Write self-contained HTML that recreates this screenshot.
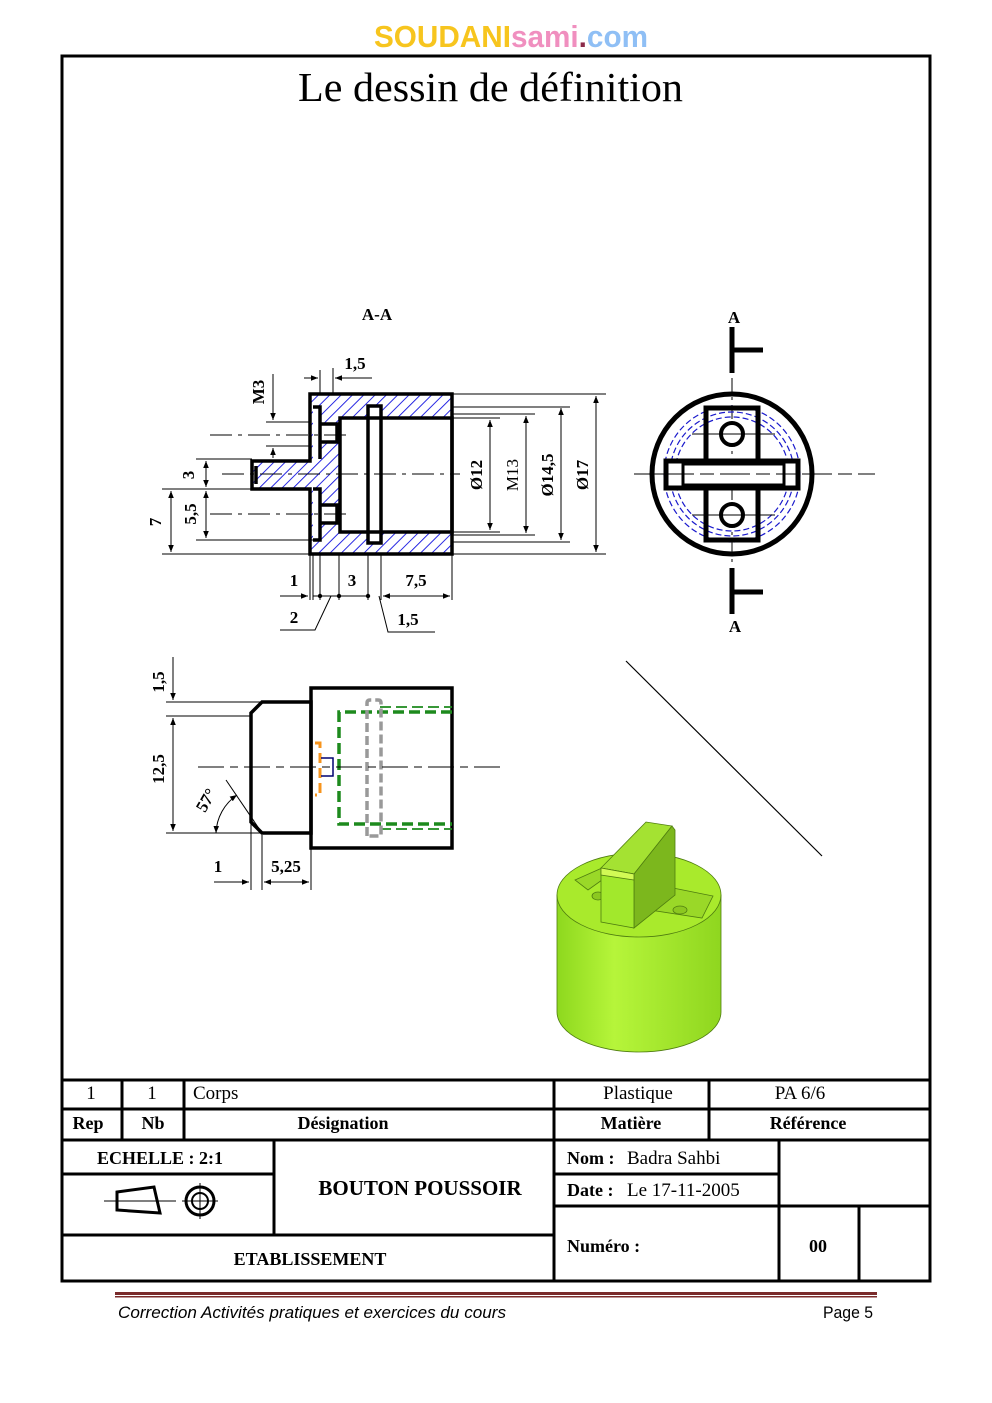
<!DOCTYPE html>
<html><head><meta charset="utf-8"><style>
html,body{margin:0;padding:0;background:#fff}
svg{display:block}
text{font-family:"Liberation Serif",serif}
</style></head><body>
<svg width="992" height="1403" viewBox="0 0 992 1403" xmlns="http://www.w3.org/2000/svg">
<defs>
<pattern id="h" width="8" height="8" patternUnits="userSpaceOnUse" patternTransform="rotate(45)">
<rect width="8" height="8" fill="#fff"/><line x1="0" y1="0" x2="0" y2="8" stroke="#1010e0" stroke-width="1.8"/>
</pattern>
<marker id="a" viewBox="0 0 10 10" refX="10" refY="5" markerWidth="7" markerHeight="7" orient="auto-start-reverse"><path d="M0,1 L10,5 L0,9z" fill="#000"/></marker>
<linearGradient id="cyl" x1="0" x2="1" y1="0" y2="0"><stop offset="0" stop-color="#8ed81e"/><stop offset="0.35" stop-color="#b6f53a"/><stop offset="1" stop-color="#8fd61f"/></linearGradient>
</defs>

<text x="374" y="47" font-weight="bold" font-size="31" textLength="274" lengthAdjust="spacingAndGlyphs" style="font-family:'Liberation Sans',sans-serif"><tspan fill="#f7c51e">SOUDANI</tspan><tspan fill="#f08fbf">sami</tspan><tspan fill="#8b2b4a">.</tspan><tspan fill="#8fbff5">com</tspan></text>

<rect x="62" y="56" width="868" height="1225" fill="none" stroke="#000" stroke-width="3"/>
<text x="298" y="101" font-size="41" textLength="385" lengthAdjust="spacingAndGlyphs">Le dessin de définition</text>

<text x="377" y="320" font-size="17" font-weight="bold" text-anchor="middle">A-A</text>
<g>
<rect x="310" y="394" width="142" height="160" fill="url(#h)"/>
<rect x="252" y="461" width="58" height="28" fill="url(#h)"/>
<g fill="#fff">
<rect x="313" y="407" width="7" height="52"/><rect x="313" y="489" width="7" height="51"/>
<rect x="321" y="424" width="16" height="18"/><rect x="321" y="505" width="16" height="18"/>
<rect x="340" y="418" width="112" height="114"/>
<rect x="368" y="406" width="13" height="137"/>
</g>
<g fill="none" stroke="#000" stroke-width="3.5">
<path d="M310,394 H452 V554 H310 V489 H252 V461 H310 Z"/>
<rect x="340" y="418" width="112" height="114"/>
<rect x="368" y="406" width="13" height="137"/>
<path d="M313,407 H320 V459 M313,489 H320 V540 H313"/>
<path d="M320,424 H337 V442 H320 M320,505 H337 V523 H320"/>
<path d="M256,466 V484"/>
</g>
<g stroke="#000" stroke-width="1" fill="none">
<line x1="452" y1="407" x2="570" y2="407"/><line x1="452" y1="414" x2="535" y2="414"/><line x1="452" y1="418" x2="500" y2="418"/>
<line x1="452" y1="532" x2="500" y2="532"/><line x1="452" y1="535" x2="535" y2="535"/><line x1="452" y1="542" x2="570" y2="542"/>
<line x1="452" y1="394" x2="606" y2="394"/><line x1="162" y1="554" x2="606" y2="554"/>
<line x1="490" y1="420" x2="490" y2="530" marker-start="url(#a)" marker-end="url(#a)"/>
<line x1="526" y1="416" x2="526" y2="533" marker-start="url(#a)" marker-end="url(#a)"/>
<line x1="561" y1="408" x2="561" y2="540" marker-start="url(#a)" marker-end="url(#a)"/>
<line x1="596" y1="396" x2="596" y2="552" marker-start="url(#a)" marker-end="url(#a)"/>
<line x1="196" y1="459" x2="252" y2="459"/><line x1="196" y1="489" x2="252" y2="489"/><line x1="162" y1="489" x2="196" y2="489"/>
<line x1="196" y1="540" x2="313" y2="540"/>
<line x1="206" y1="461" x2="206" y2="487" marker-start="url(#a)" marker-end="url(#a)"/>
<line x1="206" y1="491" x2="206" y2="538" marker-start="url(#a)" marker-end="url(#a)"/>
<line x1="171" y1="491" x2="171" y2="552" marker-start="url(#a)" marker-end="url(#a)"/>
<line x1="266" y1="422" x2="310" y2="422"/><line x1="266" y1="446" x2="310" y2="446"/>
<line x1="273" y1="374" x2="273" y2="420" marker-end="url(#a)"/>
<line x1="273" y1="458" x2="273" y2="448" marker-end="url(#a)"/>
<line x1="320" y1="370" x2="320" y2="394"/><line x1="333" y1="368" x2="333" y2="394"/>
<line x1="304" y1="378" x2="318" y2="378" marker-end="url(#a)"/><line x1="372" y1="378" x2="335" y2="378" marker-end="url(#a)"/>
<path d="M310,554 V600 M313,554 V600 M320,554 V600 M339,554 V600 M368,554 V600 M381,554 V600 M452,554 V600"/>
<line x1="280" y1="596" x2="308" y2="596" marker-end="url(#a)"/>
<line x1="313" y1="596" x2="368" y2="596"/>
<line x1="383" y1="596" x2="450" y2="596" marker-start="url(#a)" marker-end="url(#a)"/>
<path d="M331,596 L315,630 H280 M379,596 L388,632 H435"/>
<g stroke-dasharray="22,6,4,6"><line x1="210" y1="435" x2="350" y2="435"/><line x1="210" y1="514" x2="350" y2="514"/><line x1="222" y1="474" x2="460" y2="474"/></g>
</g>
<g fill="#000"><circle cx="320" cy="596" r="2.2"/><circle cx="339" cy="596" r="2.2"/><circle cx="368" cy="596" r="2.2"/></g>
<g font-size="17" font-weight="bold">
<text x="355" y="369" text-anchor="middle">1,5</text>
<text x="294" y="586" text-anchor="middle">1</text><text x="352" y="586" text-anchor="middle">3</text><text x="416" y="586" text-anchor="middle">7,5</text>
<text x="294" y="623" text-anchor="middle">2</text><text x="408" y="625" text-anchor="middle">1,5</text>
<text transform="translate(264,392) rotate(-90)" text-anchor="middle">M3</text>
<text transform="translate(194,475) rotate(-90)" text-anchor="middle">3</text>
<text transform="translate(196,514) rotate(-90)" text-anchor="middle">5,5</text>
<text transform="translate(161,522) rotate(-90)" text-anchor="middle">7</text>
<text transform="translate(482,475) rotate(-90)" text-anchor="middle">Ø12</text>
<text transform="translate(518,475) rotate(-90)" text-anchor="middle" font-weight="normal">M13</text>
<text transform="translate(553,475) rotate(-90)" text-anchor="middle">Ø14,5</text>
<text transform="translate(588,475) rotate(-90)" text-anchor="middle">Ø17</text>
</g>
</g>

<g>
<line x1="732" y1="378" x2="732" y2="566" stroke="#000" stroke-width="1" stroke-dasharray="14,5,3,5"/>
<line x1="634" y1="474" x2="875" y2="474" stroke="#000" stroke-width="1" stroke-dasharray="30,6,14,6"/>
<g fill="none" stroke="#1a1acc" stroke-width="1.2" stroke-dasharray="6,3"><circle cx="732" cy="474" r="68"/><circle cx="732" cy="474" r="62"/><circle cx="732" cy="474" r="57"/></g>
<circle cx="732" cy="474" r="80" fill="none" stroke="#000" stroke-width="5"/>
<path d="M706,408 H758 V540 H706 Z" fill="none" stroke="#000" stroke-width="5"/>
<rect x="666" y="461" width="132" height="27" fill="#fff" stroke="#000" stroke-width="5"/>
<rect x="683" y="464" width="101" height="21" fill="#fff" stroke="#000" stroke-width="3"/>
<line x1="664" y1="474" x2="800" y2="474" stroke="#000" stroke-width="1" stroke-dasharray="30,6,14,6"/>
<g fill="#fff" stroke="#000" stroke-width="4"><circle cx="732" cy="434" r="11"/><circle cx="732" cy="515" r="11"/></g>
<g stroke="#000" stroke-width="1"><line x1="692" y1="434" x2="775" y2="434"/><line x1="692" y1="515" x2="775" y2="515"/></g>
<g stroke="#000" stroke-width="5"><path d="M732,327 V373 M732,350 H763 M732,568 V614 M732,592 H763"/></g>
<g font-size="17" font-weight="bold"><text x="734" y="323" text-anchor="middle">A</text><text x="735" y="632" text-anchor="middle">A</text></g>
</g>

<g>
<path d="M262,702 H311 V833 H262 L251,822 V713 Z" fill="none" stroke="#000" stroke-width="3.5"/>
<rect x="311" y="688" width="141" height="160" fill="none" stroke="#000" stroke-width="3.5"/>
<g fill="none" stroke="#1d8a1d" stroke-width="3.5" stroke-dasharray="11,5"><path d="M452,712 H339 V824 H452"/></g>
<g fill="none" stroke="#1d8a1d" stroke-width="1.8" stroke-dasharray="11,5"><path d="M380,707 H452 M380,829 H452"/></g>
<path d="M367,836 V703 Q367,700 370,700 H378 Q381,700 381,703 V836 H367" fill="none" stroke="#999" stroke-width="3.5" stroke-dasharray="9,4"/>
<path d="M315,743 H320 V795 H315" fill="none" stroke="#f7941d" stroke-width="3" stroke-dasharray="10,5"/>
<path d="M321,758 H333 V776 H321" fill="none" stroke="#000070" stroke-width="1.5"/>
<line x1="198" y1="767" x2="505" y2="767" stroke="#000" stroke-width="1" stroke-dasharray="26,6,8,6"/>
<g stroke="#000" stroke-width="1" fill="none">
<line x1="166" y1="702" x2="262" y2="702"/><line x1="166" y1="716" x2="251" y2="716"/><line x1="166" y1="833" x2="262" y2="833"/>
<line x1="173" y1="657" x2="173" y2="700" marker-end="url(#a)"/>
<line x1="173" y1="718" x2="173" y2="831" marker-start="url(#a)" marker-end="url(#a)"/>
<line x1="226" y1="780" x2="262" y2="833"/>
<path d="M216,833 A48,48 0 0 1 237,795" marker-start="url(#a)" marker-end="url(#a)"/>
<line x1="251" y1="822" x2="251" y2="890"/><line x1="262" y1="835" x2="262" y2="890"/><line x1="311" y1="848" x2="311" y2="890"/>
<line x1="214" y1="882" x2="249" y2="882" marker-end="url(#a)"/>
<line x1="264" y1="882" x2="309" y2="882" marker-start="url(#a)" marker-end="url(#a)"/>
</g>
<g font-size="17" font-weight="bold">
<text transform="translate(164,682) rotate(-90)" text-anchor="middle">1,5</text>
<text transform="translate(164,769) rotate(-90)" text-anchor="middle">12,5</text>
<text transform="translate(211,803) rotate(-60)" text-anchor="middle">57°</text>
<text x="218" y="872" text-anchor="middle">1</text><text x="286" y="872" text-anchor="middle">5,25</text>
</g>
</g>

<line x1="626" y1="661" x2="822" y2="856" stroke="#000" stroke-width="1.2"/>

<g stroke="#4f7d10" stroke-width="0.8">
<path d="M557,895 V1012 A82,40 0 0 0 721,1012 V895 Z" fill="url(#cyl)"/>
<ellipse cx="639" cy="895" rx="82" ry="42" fill="#a9ea2c"/>
<path d="M575,880 L602,868 L602,880 L588,890 Z" fill="#9ad828"/>
<path d="M658,885 L713,896 L702,918 L650,910 Z" fill="#9ad828"/>
<ellipse cx="680" cy="910" rx="7" ry="4" fill="#8cc820"/>
<ellipse cx="598" cy="896" rx="6" ry="4" fill="#8cc820"/>
<path d="M601,868 L646,822 L672,826 L634,874 Z" fill="#a4e232"/>
<path d="M634,874 L672,826 L675,830 L675,895 L634,928 Z" fill="#7cb71d"/>
<path d="M601,868 L634,874 L634,928 L601,922 Z" fill="#a2e82c"/>
<path d="M601,868 L634,874 L634,880 L601,875 Z" fill="#d2fa55"/>
</g>

<g stroke="#000" stroke-width="3" fill="none">
<line x1="61" y1="1080" x2="931" y2="1080"/>
<line x1="61" y1="1109" x2="931" y2="1109"/>
<line x1="61" y1="1140" x2="931" y2="1140"/>
<line x1="122" y1="1080" x2="122" y2="1140"/><line x1="184" y1="1080" x2="184" y2="1140"/>
<line x1="554" y1="1080" x2="554" y2="1282"/><line x1="709" y1="1080" x2="709" y2="1140"/>
<line x1="274" y1="1140" x2="274" y2="1235"/>
<line x1="61" y1="1174" x2="274" y2="1174"/>
<line x1="61" y1="1235" x2="554" y2="1235"/>
<line x1="554" y1="1174" x2="779" y2="1174"/>
<line x1="554" y1="1206" x2="931" y2="1206"/>
<line x1="779" y1="1140" x2="779" y2="1282"/>
<line x1="859" y1="1206" x2="859" y2="1282"/>
</g>
<g font-size="19">
<text x="91" y="1099" text-anchor="middle">1</text><text x="152" y="1099" text-anchor="middle">1</text><text x="193" y="1099">Corps</text>
<text x="638" y="1099" text-anchor="middle">Plastique</text><text x="800" y="1099" text-anchor="middle">PA 6/6</text>
</g>
<g font-size="18" font-weight="bold">
<text x="88" y="1129" text-anchor="middle">Rep</text><text x="153" y="1129" text-anchor="middle">Nb</text>
<text x="343" y="1129" text-anchor="middle">Désignation</text><text x="631" y="1129" text-anchor="middle">Matière</text><text x="808" y="1129" text-anchor="middle">Référence</text>
<text x="160" y="1164" text-anchor="middle">ECHELLE : 2:1</text>
<text x="420" y="1195" text-anchor="middle" font-size="21">BOUTON POUSSOIR</text>
<text x="310" y="1265" text-anchor="middle">ETABLISSEMENT</text>
<text x="567" y="1164">Nom :</text><text x="567" y="1196">Date :</text>
<text x="567" y="1252">Numéro :</text><text x="818" y="1252" text-anchor="middle">00</text>
</g>
<g font-size="19"><text x="627" y="1164">Badra Sahbi</text><text x="627" y="1196">Le 17-11-2005</text></g>
<g stroke="#000" fill="none">
<path d="M117,1192 L154,1187 L160,1213 L117,1210 Z" stroke-width="3"/>
<line x1="104" y1="1201" x2="176" y2="1201" stroke-width="1"/>
<circle cx="200" cy="1201" r="14" stroke-width="3"/><circle cx="200" cy="1201" r="8" stroke-width="2"/>
<line x1="182" y1="1201" x2="218" y2="1201" stroke-width="1"/><line x1="200" y1="1183" x2="200" y2="1219" stroke-width="1"/>
</g>

<rect x="115" y="1292" width="762" height="3" fill="#7a2b2b"/>
<rect x="115" y="1296" width="762" height="1.5" fill="#7a2b2b"/>
<text x="118" y="1318" font-size="17" font-style="italic" style="font-family:'Liberation Sans',sans-serif" textLength="388" lengthAdjust="spacingAndGlyphs">Correction Activités pratiques et exercices du cours</text>
<text x="823" y="1318" font-size="17" style="font-family:'Liberation Sans',sans-serif" textLength="50" lengthAdjust="spacingAndGlyphs">Page 5</text>
</svg>
</body></html>
